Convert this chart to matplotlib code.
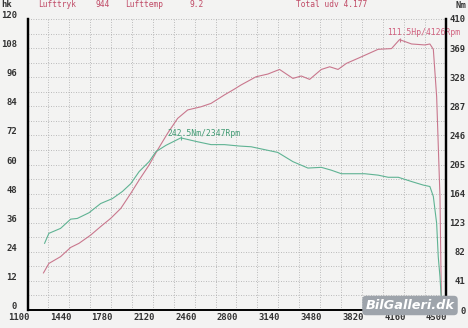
import matplotlib
import matplotlib.pyplot as plt
from matplotlib.transforms import ScaledTranslation

matplotlib.use("Agg")

# power curve (hk, left axis)
rpm_power = [1230, 1274, 1369, 1451, 1519, 1614, 1695, 1777, 1859, 1940, 2008, 2089,
             2158, 2240, 2321, 2403, 2511, 2593, 2702, 2780, 2837, 2960, 3055, 3150,
             3259, 3327, 3395, 3490, 3558, 3626, 3694, 3789, 3952, 4061, 4126, 4224,
             4332, 4373, 4401, 4428, 4455, 4466]
power_hk = [15.3, 19.2, 22.0, 25.8, 27.5, 30.9, 34.4, 37.8, 41.9, 48.1, 53.6, 59.8,
            66.0, 72.9, 79.0, 82.5, 83.8, 85.2, 88.7, 91.0, 92.8, 96.2, 97.3, 99.2,
            95.5, 96.5, 95.1, 99.2, 100.3, 99.2, 101.7, 103.8, 107.5, 107.8, 111.5, 109.7,
            109.3, 109.7, 107.5, 88.0, 46.7, 5.0]

# torque curve (Nm, right axis)
rpm_torque = [1239, 1274, 1369, 1451, 1505, 1600, 1695, 1791, 1872, 1940, 2008, 2089,
              2144, 2226, 2347, 2484, 2593, 2702, 2824, 2919, 3027, 3136, 3259, 3381,
              3490, 3571, 3653, 3843, 3952, 4034, 4116, 4224, 4319, 4373, 4401, 4428,
              4441, 4455, 4466]
torque_nm = [94, 108, 115, 128, 129, 137, 150, 157, 167, 178, 195, 209,
             223, 232, 242.5, 237, 233, 233, 231, 230, 226, 222, 209, 200,
             201, 197, 192, 192, 190, 187, 187, 181, 176, 174, 160, 122,
             75, 47, 15]

peak_power = (4126, 111.5)
peak_torque = (2347, 242.5)

x_ticks = [1100, 1440, 1780, 2120, 2460, 2800, 3140, 3480, 3820, 4160, 4500]
hk_ticks = [0, 12, 24, 36, 48, 60, 72, 84, 96, 108, 120]
nm_ticks = [0, 41, 82, 123, 164, 205, 246, 287, 328, 369, 410]

RED = "#c9778d"
GREEN = "#5fb393"
BG = "#f3f3f2"
MONO = "DejaVu Sans Mono"

W, H = 468, 328
fig = plt.figure(figsize=(W / 100, H / 100), dpi=100)
fig.patch.set_facecolor(BG)
ax = fig.add_axes([27.5 / W, 18 / H, 418 / W, 291 / H])
ax.set_facecolor(BG)
ax2 = ax.twinx()

ax.set_xlim(1100, 4500)
ax.set_ylim(0, 120)
ax2.set_ylim(0, 410)

ax.set_xticks(x_ticks)
ax.set_xticks(range(1270, 4500, 340), minor=True)
ax.set_yticks(hk_ticks)
ax.set_yticks(range(6, 120, 12), minor=True)
ax2.set_yticks(nm_ticks)

ax.grid(True, which="both", color="#a8a8a8", linestyle=(0, (1, 2)), linewidth=0.6)
ax.set_axisbelow(True)

for a in (ax, ax2):
    a.spines["top"].set_visible(False)
    a.spines["left"].set_linewidth(1.6)
    a.spines["right"].set_linewidth(1.6)
    a.spines["bottom"].set_linewidth(1.2)
    a.tick_params(which="both", length=0)

tick_font = dict(family=MONO, size=6.4, weight="bold", color="#333333")
ax.set_xticklabels([str(v) for v in x_ticks], fontdict=tick_font)
ax.set_yticklabels([str(v) for v in hk_ticks], fontdict=tick_font)
ax2.set_yticklabels([str(v) for v in nm_ticks], fontdict=tick_font)
ax.tick_params(axis="x", pad=2.5)
ax.tick_params(axis="y", pad=7.5)
ax2.tick_params(axis="y", pad=0)

for lbl in ax.get_xticklabels():
    lbl.set_ha("right")
    lbl.set_transform(lbl.get_transform() + ScaledTranslation(2 / 100, 0, fig.dpi_scale_trans))
for lbl in ax.get_yticklabels():
    lbl.set_transform(lbl.get_transform() + ScaledTranslation(0, 4.5 / 100, fig.dpi_scale_trans))
# right labels are right-aligned against the image edge
for lbl in ax2.get_yticklabels():
    lbl.set_ha("right")
    lbl.set_transform(lbl.get_transform() + ScaledTranslation(20 / 100, 0, fig.dpi_scale_trans))

ax.plot(rpm_power, power_hk, color=RED, linewidth=0.8)
ax2.plot(rpm_torque, torque_nm, color=GREEN, linewidth=0.8)

ax.plot(*peak_power, marker="|", color=RED, markersize=3.5, markeredgewidth=0.8)
ax2.plot(*peak_torque, marker="|", color=GREEN, markersize=3.5, markeredgewidth=0.8)
ax.annotate(f"{peak_power[1]}Hp/{peak_power[0]}Rpm", xy=peak_power, xytext=(-9, 5),
            textcoords="offset points", fontsize=5.8, family=MONO, color="#d0607e",
            va="center", ha="left", annotation_clip=False)
ax2.annotate(f"{peak_torque[1]}Nm/{peak_torque[0]}Rpm", xy=peak_torque, xytext=(-9.5, 3),
             textcoords="offset points", fontsize=5.8, family=MONO, color="#3f9a72",
             va="center", ha="left")

# header line
header = dict(family=MONO, size=5.7, color="#c04a66", va="center", ha="left")
fig.text(38 / W, 1 - 4.5 / H, "Lufttryk", **header)
fig.text(95 / W, 1 - 4.5 / H, "944", **header)
fig.text(125 / W, 1 - 4.5 / H, "Lufttemp", **header)
fig.text(190 / W, 1 - 4.5 / H, "9.2", **header)
fig.text(296 / W, 1 - 4.5 / H, "Total udv 4.177", **header)
fig.text(1 / W, 1 - 4.5 / H, "hk", family=MONO, size=6.4, weight="bold", color="#333333",
         ha="left", va="center")
fig.text(455 / W, 1 - 5 / H, "Nm", family=MONO, size=6.4, weight="bold", color="#333333",
         ha="left", va="center")

# watermark
fig.text(410 / W, 1 - 305.5 / H, "BilGalleri.dk", fontsize=9.3, fontweight="bold",
         fontstyle="italic", color="white", ha="center", va="center",
         bbox=dict(boxstyle="round,pad=0.25,rounding_size=0.3", fc="#9ea4ab", ec="none"))

fig.savefig("out.png", dpi=100, facecolor=BG)
